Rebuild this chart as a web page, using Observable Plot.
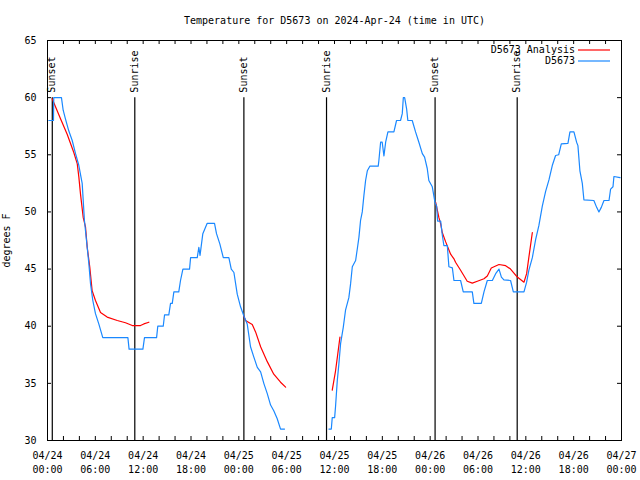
<!DOCTYPE html>
<html><head><meta charset="utf-8">
<script src="https://cdn.jsdelivr.net/npm/d3@7"></script>
<script src="https://cdn.jsdelivr.net/npm/@observablehq/plot@0.6"></script>
<style>body{margin:0;background:#fff}</style>
</head><body><div id="chart"></div>
<script>
const title = "Temperature for D5673 on 2024-Apr-24 (time in UTC)";
const yLabel = "degrees F";
const xDomain = ["04-24T00:00", "04-27T00:00"];
const yDomain = [30, 65];
const yTicks = [30, 35, 40, 45, 50, 55, 60, 65];
const xTickTimes = ["04-24T00:00","04-24T06:00","04-24T12:00","04-24T18:00","04-25T00:00","04-25T06:00","04-25T12:00","04-25T18:00","04-26T00:00","04-26T06:00","04-26T12:00","04-26T18:00","04-27T00:00"];
const xTickLabels = ["04/24\n00:00","04/24\n06:00","04/24\n12:00","04/24\n18:00","04/25\n00:00","04/25\n06:00","04/25\n12:00","04/25\n18:00","04/26\n00:00","04/26\n06:00","04/26\n12:00","04/26\n18:00","04/27\n00:00"];
const sunTimes = ["04-24T00:36","04-24T10:57","04-25T00:38","04-25T11:00","04-26T00:37","04-26T10:55"];
const sunLabels = ["Sunset","Sunrise","Sunset","Sunrise","Sunset","Sunrise"];
const sunLineTop = 60;
const seriesNames = ["D5673 Analysis", "D5673"];
const seriesColors = ["#ff0000", "#1a88ff"];

// Observed D5673 (two pieces, gap between)
const obsSeg1 = [["04-24T00:10",58],["04-24T00:45",58],["04-24T00:47",60],["04-24T01:45",60],["04-24T01:58",58.9],["04-24T02:15",58.15],["04-24T02:40",57.1],["04-24T03:06",56.25],["04-24T03:31",55.1],["04-24T03:56",54.06],["04-24T04:21",52.5],["04-24T04:38",49.25],["04-24T04:51",47.8],["04-24T05:11",45.5],["04-24T05:24",43.7],["04-24T05:41",42.25],["04-24T06:01",41.1],["04-24T06:26",40.2],["04-24T06:56",39],["04-24T10:05",39],["04-24T10:14",38],["04-24T11:58",38],["04-24T12:10",39],["04-24T13:41",39],["04-24T13:50",40],["04-24T14:31",40],["04-24T14:41",41],["04-24T15:13",41],["04-24T15:26",42],["04-24T15:39",42],["04-24T15:51",43],["04-24T16:28",43],["04-24T16:41",44],["04-24T16:59",45],["04-24T17:49",45],["04-24T17:57",46],["04-24T18:47",46],["04-24T18:59",46.9],["04-24T19:08",46.2],["04-24T19:29",48.1],["04-24T20:02",49],["04-24T20:57",49],["04-24T21:12",48.1],["04-24T21:37",47.2],["04-24T22:03",46],["04-24T22:45",46],["04-24T23:03",45],["04-24T23:23",44.7],["04-24T23:48",42.8],["04-25T00:13",41.7],["04-25T00:38",40.9],["04-25T01:03",40.2],["04-25T01:28",38.2],["04-25T01:53",37.3],["04-25T02:19",36.4],["04-25T02:44",36],["04-25T03:08",35],["04-25T03:34",34.1],["04-25T03:59",33.1],["04-25T04:23",32.6],["04-25T04:49",31.9],["04-25T05:14",31],["04-25T05:44",31]];
const obsSeg2 = [["04-25T11:18",31],["04-25T11:36",31],["04-25T11:43",32],["04-25T12:01",32],["04-25T12:08",33],["04-25T12:21",35.25],["04-25T12:33",36.7],["04-25T12:46",38.5],["04-25T13:06",39.9],["04-25T13:23",41.4],["04-25T13:48",42.5],["04-25T14:01",43.7],["04-25T14:14",45.2],["04-25T14:39",45.75],["04-25T14:52",46.8],["04-25T15:04",47.8],["04-25T15:16",49.25],["04-25T15:29",50],["04-25T15:41",51.4],["04-25T15:54",52.75],["04-25T16:07",53.6],["04-25T16:26",54],["04-25T17:29",54],["04-25T17:34",54.5],["04-25T17:47",56.1],["04-25T17:59",56.1],["04-25T18:12",54.9],["04-25T18:25",56.1],["04-25T18:42",57],["04-25T19:27",57],["04-25T19:47",58],["04-25T20:17",58],["04-25T20:30",58.6],["04-25T20:38",60],["04-25T20:48",60],["04-25T21:03",59],["04-25T21:12",58],["04-25T21:45",58],["04-25T22:10",57],["04-25T22:35",56.1],["04-25T23:01",55.1],["04-25T23:18",54.8],["04-25T23:38",53.8],["04-25T23:50",52.75],["04-26T00:16",52.2],["04-26T00:36",50.85],["04-26T00:49",50.5],["04-26T00:56",49.2],["04-26T01:19",49.2],["04-26T01:31",48],["04-26T01:43",47.06],["04-26T02:09",47.06],["04-26T02:21",45.2],["04-26T02:47",45.1],["04-26T02:59",44],["04-26T03:49",44],["04-26T04:09",43],["04-26T05:17",43],["04-26T05:29",42],["04-26T06:25",42],["04-26T06:45",43],["04-26T07:10",44],["04-26T07:48",44],["04-26T08:13",44.6],["04-26T08:38",45],["04-26T08:56",44.3],["04-26T09:15",44.06],["04-26T10:05",44],["04-26T10:26",43],["04-26T11:46",43],["04-26T12:06",43.85],["04-26T12:23",44.9],["04-26T12:49",46],["04-26T13:14",47.6],["04-26T13:38",48.8],["04-26T14:04",50.5],["04-26T14:29",51.8],["04-26T14:54",52.8],["04-26T15:19",54.06],["04-26T15:44",54.94],["04-26T16:07",55],["04-26T16:27",55.96],["04-26T17:17",56],["04-26T17:32",57],["04-26T18:02",57],["04-26T18:22",56.1],["04-26T18:32",55.8],["04-26T18:47",53.6],["04-26T19:05",52.5],["04-26T19:17",51.06],["04-26T20:32",51],["04-26T20:53",50.4],["04-26T21:10",50],["04-26T21:28",50.4],["04-26T21:48",51],["04-26T22:26",51],["04-26T22:38",52],["04-26T22:56",52.2],["04-26T23:03",53.1],["04-26T23:49",53]];

// D5673 Analysis (four pieces)
const anaSeg1 = [["04-24T00:35",59.9],["04-24T01:38",58.15],["04-24T02:28",56.8],["04-24T03:18",55.2],["04-24T03:44",54.2],["04-24T03:56",53.05],["04-24T04:08",51.6],["04-24T04:29",49.5],["04-24T04:46",48.7],["04-24T04:59",46.9],["04-24T05:18",45.2],["04-24T05:36",43.1],["04-24T06:01",42.25],["04-24T06:39",41.2],["04-24T07:29",40.8],["04-24T08:45",40.5],["04-24T09:47",40.3],["04-24T10:38",40.06],["04-24T11:40",40.06],["04-24T12:05",40.2],["04-24T12:43",40.35]];
const anaSeg2 = [["04-25T00:38",40.9],["04-25T00:50",40.5],["04-25T01:41",40.15],["04-25T02:06",39.5],["04-25T02:44",38.2],["04-25T03:34",36.9],["04-25T04:23",35.8],["04-25T05:14",35.1],["04-25T05:52",34.67]];
const anaSeg3 = [["04-25T11:43",34.4],["04-25T12:08",36.1],["04-25T12:25",37.6],["04-25T12:41",39.04]];
const anaSeg4 = [["04-26T00:41",50.85],["04-26T01:06",49.5],["04-26T01:19",48.96],["04-26T01:31",48.2],["04-26T01:56",47.4],["04-26T02:34",46.3],["04-26T02:59",45.9],["04-26T03:11",45.6],["04-26T03:49",44.9],["04-26T04:39",43.94],["04-26T05:17",43.77],["04-26T05:55",43.94],["04-26T06:45",44.15],["04-26T07:10",44.4],["04-26T07:40",45.1],["04-26T08:38",45.4],["04-26T09:28",45.3],["04-26T10:05",45.0],["04-26T10:56",44.3],["04-26T11:46",43.85],["04-26T12:06",44.6],["04-26T12:23",46.04],["04-26T12:49",48.2]];

const T = s => new Date("2024-" + s + ":00Z");
const toRows = (segs, series) => segs.flatMap((seg, i) => seg.map(([t, v]) => ({time: T(t), temp: v, seg: series + i})));
const obsRows = toRows([obsSeg1, obsSeg2], "obs");
const anaRows = toRows([anaSeg1, anaSeg2, anaSeg3, anaSeg4], "ana");
const sunRows = sunTimes.map((t, i) => ({time: T(t), label: sunLabels[i]}));
const xTickRows = xTickTimes.map((t, i) => ({time: T(t), label: xTickLabels[i]}));
const x0 = T(xDomain[0]), x1 = T(xDomain[1]);
const minorTicks = d3.utcHour.every(2).range(x0, new Date(+x1 + 1));

const W = 640, H = 480, mL = 47, mR = 19, mT = 40, mB = 40;
const fw = W - mL - mR, fh = H - mT - mB, tl = 4;
const font = "DejaVu Sans Mono";
const fs = "10px";

const chart = Plot.plot({
  width: W, height: H,
  marginLeft: mL, marginRight: mR, marginTop: mT, marginBottom: mB,
  style: {fontFamily: font, fontSize: fs, background: "white", color: "black"},
  x: {type: "utc", domain: [x0, x1], axis: null},
  y: {domain: yDomain, axis: null},
  marks: [
    Plot.ruleX(sunRows, {x: "time", y1: yDomain[0], y2: sunLineTop, stroke: "black", strokeWidth: 1.2}),
    Plot.text(sunRows, {x: "time", y: sunLineTop, text: "label", rotate: -90, textAnchor: "start", lineAnchor: "middle", dy: -5, fill: "black"}),
    Plot.line(anaRows, {x: "time", y: "temp", z: "seg", stroke: seriesColors[0], strokeWidth: 1.2}),
    Plot.line(obsRows, {x: "time", y: "temp", z: "seg", stroke: seriesColors[1], strokeWidth: 1.2}),
    Plot.tickX(minorTicks, {x: d => d, insetTop: fh - tl, stroke: "black"}),
    Plot.tickX(minorTicks, {x: d => d, insetBottom: fh - tl, stroke: "black"}),
    Plot.tickY(yTicks, {y: d => d, insetRight: fw - tl, stroke: "black"}),
    Plot.tickY(yTicks, {y: d => d, insetLeft: fw - tl, stroke: "black"}),
    Plot.frame({stroke: "black"}),
    Plot.text(yTicks, {y: d => d, text: d => String(d), frameAnchor: "left", dx: -11, textAnchor: "end", lineAnchor: "middle", fill: "black"}),
    Plot.text(xTickRows, {x: "time", text: "label", frameAnchor: "bottom", dy: 21, lineAnchor: "middle", textAnchor: "middle", lineHeight: 1.37, fill: "black"}),
    Plot.text([title], {text: d => d, frameAnchor: "top", dy: -20, lineAnchor: "middle", textAnchor: "middle", fill: "black"}),
    Plot.text([yLabel], {text: d => d, frameAnchor: "left", dx: -41, rotate: -90, lineAnchor: "middle", textAnchor: "middle", fill: "black"})
  ]
});

// legend (top right, inside frame)
const svg = d3.select(chart);
const lg = svg.append("g").attr("font-family", font).attr("font-size", fs);
seriesNames.forEach((name, i) => {
  const y = mT + 10 + i * 11;
  const xr = W - mR - 46;
  lg.append("text").attr("x", xr).attr("y", y).attr("dy", "0.32em").attr("text-anchor", "end").attr("fill", "black").text(name);
  lg.append("line").attr("x1", xr + 3).attr("x2", xr + 35).attr("y1", y).attr("y2", y).attr("stroke", seriesColors[i]).attr("stroke-width", 1.2);
});
document.getElementById("chart").append(chart);
</script>
</body></html>
